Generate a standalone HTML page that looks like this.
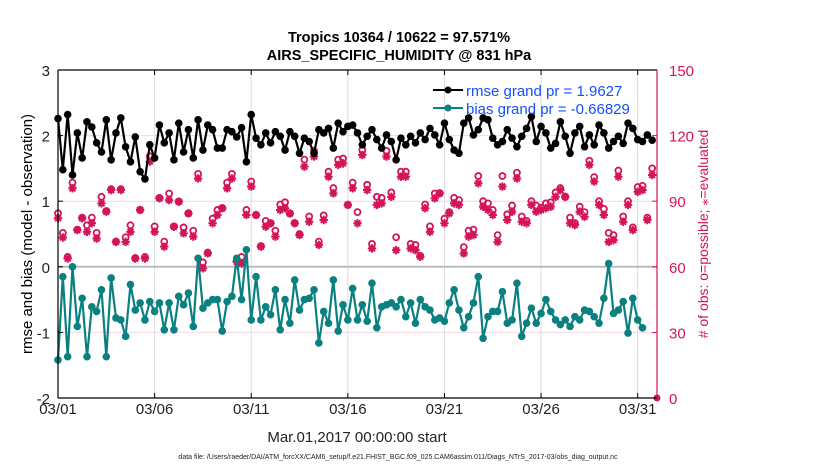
<!DOCTYPE html>
<html><head><meta charset="utf-8"><style>
body{margin:0;background:#fff;width:830px;height:470px;overflow:hidden}
svg{font-family:"Liberation Sans",Arial,sans-serif}
</style></head><body>
<svg id="chart" width="830" height="470" xmlns="http://www.w3.org/2000/svg">
<g id="grid"></g>
<g id="series"></g>
<g id="axes"></g>
<text x="399" y="42" text-anchor="middle" font-size="14.5" font-weight="bold">Tropics 10364 / 10622 = 97.571%</text>
<text x="399" y="60" text-anchor="middle" font-size="14.5" font-weight="bold">AIRS_SPECIFIC_HUMIDITY @ 831 hPa</text>
<text transform="translate(32,234) rotate(-90)" text-anchor="middle" font-size="15">rmse and bias (model - observation)</text>
<text transform="translate(708,234) rotate(-90)" text-anchor="middle" font-size="14" fill="#d4145a"># of obs: o=possible; ⁎=evaluated</text>
<text x="357" y="442" text-anchor="middle" font-size="15" fill="#222">Mar.01,2017 00:00:00 start</text>
<text x="398" y="459" text-anchor="middle" font-size="7" fill="#222">data file: /Users/raeder/DAI/ATM_forcXX/CAM6_setup/f.e21.FHIST_BGC.f09_025.CAM6assim.011/Diags_NTrS_2017-03/obs_diag_output.nc</text>
<g>
<line x1="433" y1="90" x2="463" y2="90" stroke="#000" stroke-width="2"/>
<circle cx="448" cy="90" r="3.5" fill="#000"/>
<text x="466" y="96" font-size="15" fill="#1450ff">rmse grand pr = 1.9627</text>
<line x1="433" y1="108" x2="463" y2="108" stroke="#0a8080" stroke-width="2"/>
<circle cx="448" cy="108" r="3.5" fill="#0a8080"/>
<text x="466" y="114" font-size="15" fill="#1450ff">bias grand pr = -0.66829</text>
</g>
</svg>
<script>
const rmse=[2.26,1.48,2.32,1.40,2.04,1.66,2.21,2.13,1.89,1.75,2.24,1.63,2.04,2.27,1.83,1.60,1.98,1.45,1.34,1.86,1.66,2.16,1.89,2.04,1.63,2.19,1.75,2.09,1.66,2.24,1.78,2.16,2.09,1.81,1.81,2.09,2.06,1.98,2.12,1.60,
2.32,1.96,1.86,2.04,1.89,2.06,1.99,1.78,2.06,1.99,1.73,1.96,1.91,1.73,2.09,2.04,2.11,1.81,2.19,2.06,2.14,2.16,2.04,1.86,1.99,2.09,1.94,1.81,2.01,1.91,1.63,1.96,1.86,1.99,1.89,2.04,1.94,2.11,2.01,1.86,
2.19,1.94,1.78,1.73,2.19,2.27,2.01,2.09,2.27,2.24,1.96,1.86,1.91,2.09,1.96,1.83,1.99,2.11,2.29,1.91,2.14,2.04,1.81,1.88,2.21,1.99,1.73,2.04,2.14,1.83,2.01,1.86,2.16,2.04,1.81,1.91,1.99,1.88,2.19,2.11,1.94,1.91,2.01,1.93];
const bias=[-1.42,-0.15,-1.37,0.0,-0.91,-0.48,-1.37,-0.61,-0.68,-0.35,-1.37,-0.17,-0.78,-0.81,-1.06,-0.27,-0.66,-0.55,-0.81,-0.53,-0.68,-0.55,-0.96,-0.55,-0.96,-0.45,-0.58,-0.40,-0.91,0.13,-0.63,-0.55,-0.50,-0.50,-0.98,-0.53,-0.45,0.13,-0.50,0.26,
-0.81,-0.15,-0.81,-0.61,-0.73,-0.35,-0.96,-0.50,-0.86,-0.20,-0.66,-0.50,-0.48,-0.35,-1.16,-0.68,-0.86,-0.20,-0.98,-0.58,-0.81,-0.33,-0.81,-0.58,-0.83,-0.25,-0.93,-0.61,-0.58,-0.55,-0.61,-0.50,-0.76,-0.55,-0.86,-0.50,-0.61,-0.66,-0.81,-0.78,
-0.83,-0.55,-0.35,-0.66,-0.93,-0.76,-0.55,-0.15,-1.09,-0.76,-0.68,-0.68,-0.38,-0.86,-0.81,-0.25,-1.06,-0.86,-0.63,-0.86,-0.71,-0.50,-0.68,-0.81,-0.88,-0.81,-0.91,-0.76,-0.81,-0.66,-0.68,-0.76,-0.86,-0.48,0.05,-0.71,-0.66,-0.53,-1.01,-0.48,-0.81,-0.93];
const evaluated=[82.2,73.4,63.8,95.9,76.8,82.2,76.0,79.9,72.9,89.0,85.2,95.1,71.4,95.1,71.4,76.0,63.8,86.0,63.8,108.1,76.0,91.3,69.2,90.5,78.3,89.8,75.3,84.4,73.8,100.4,59.3,66.1,79.9,83.7,86.8,95.9,100.4,62.3,61.5,83.7,
96.7,83.7,69.2,78.3,79.9,73.8,86.0,86.8,84.4,79.9,74.5,105.8,80.6,110.4,70.0,81.4,101.2,93.6,106.6,107.3,88.3,95.9,79.9,111.1,95.1,68.4,88.3,89.0,110.4,92.0,67.6,101.2,101.2,68.4,67.6,64.6,86.8,76.0,91.3,93.6,
79.9,84.4,89.0,88.3,66.1,73.8,74.5,98.2,87.5,86.0,83.7,71.4,96.7,81.4,85.2,100.4,80.6,79.9,88.3,85.2,86.0,86.8,87.5,92.0,95.1,92.0,79.9,79.1,85.2,82.9,106.6,99.0,88.3,83.7,71.4,72.2,101.2,80.6,88.3,76.8,94.3,95.1,81.4,102.0];
const possible=[84.5,75.5,64.5,98.5,77.0,82.5,79.0,82.5,75.5,92.0,85.5,95.5,71.5,95.5,73.5,79.0,64.0,86.0,64.5,110.5,78.5,91.5,71.5,93.5,78.5,89.8,78.0,84.5,76.5,102.5,62.0,66.5,82.0,86.0,86.8,98.5,102.5,63.0,64.5,86.0,
99.0,83.7,69.5,81.0,79.9,76.5,88.5,89.5,84.4,80.0,75.0,109.0,83.0,113.0,71.5,83.5,103.5,96.0,109.0,109.5,88.3,98.5,85.0,113.5,97.5,70.5,92.0,91.5,113.0,94.0,73.5,103.5,103.5,70.5,70.0,65.0,88.5,78.5,93.5,93.6,
82.0,85.0,91.5,90.5,69.0,76.5,77.0,101.5,90.0,89.0,86.0,74.5,101.5,84.0,88.0,103.0,83.0,81.0,90.0,88.0,87.0,89.0,89.5,94.0,96.0,92.0,82.5,80.0,87.5,85.0,108.5,101.0,90.0,86.5,75.5,74.5,104.0,83.0,90.0,78.0,96.5,97.0,82.5,105.0];
const xTickLabels=["03/01","03/06","03/11","03/16","03/21","03/26","03/31"];
const xTickDays=[0,5,10,15,20,25,30];
const leftTicks=[3,2,1,0,-1,-2];
const rightTicks=[150,120,90,60,30,0];
const stepDays=0.25;

const X0=58,X1=657,Y0=70,Y1=398,DAYS=31;
const xs=d=>X0+(d/DAYS)*(X1-X0);
const yL=v=>Y1-(v+2)/5*(Y1-Y0);
const yR=c=>Y1-c/150*(Y1-Y0);
const NS="http://www.w3.org/2000/svg";
function mk(tag,parent,attrs){const e=document.createElementNS(NS,tag);for(const k in attrs)e.setAttribute(k,attrs[k]);parent.appendChild(e);return e;}
const grid=document.getElementById('grid'),ser=document.getElementById('series'),ax=document.getElementById('axes');
const CR="#d4145a";

xTickDays.forEach((d,i)=>{
  const g=mk('line',grid,{x1:xs(d),x2:xs(d),y1:Y0,y2:Y1,stroke:"#dcdcdc","stroke-width":1});
  
  
  const t=mk('line',ax,{x1:xs(d),x2:xs(d),y1:Y1,y2:Y1-5,stroke:"#000"});
  
  
  const t2=mk('line',ax,{x1:xs(d),x2:xs(d),y1:Y0,y2:Y0+5,stroke:"#000"});
  
  
  const l=mk('text',ax,{x:xs(d),y:Y1+16,"text-anchor":"middle","font-size":15,fill:"#222"});
  l.textContent=xTickLabels[i];
  
  
});
rightTicks.forEach(c=>{
  if(c>0&&c<150){const g=mk('line',grid,{x1:X0,x2:X1,y1:yR(c),y2:yR(c),stroke:"#f2d8e2","stroke-width":1});
  
  }
  const t=mk('line',ax,{x1:X1,x2:X1-5,y1:yR(c),y2:yR(c),stroke:CR});
  
  
  const l=mk('text',ax,{x:X1+12,y:yR(c)+6,"font-size":15,fill:CR});
  l.textContent=c;
  
  
});
leftTicks.forEach(v=>{
  const t=mk('line',ax,{x1:X0,x2:X0+5,y1:yL(v),y2:yL(v),stroke:"#000"});
  
  
  const l=mk('text',ax,{x:X0-8,y:yL(v)+6,"text-anchor":"end","font-size":15,fill:"#222"});
  l.textContent=v;
  
  
});
const zl=mk('line',grid,{x1:X0,x2:X1,y1:yL(0),y2:yL(0),stroke:"#bbb","stroke-width":2});



possible.forEach((c,i)=>{
  const o=mk('circle',ser,{cx:xs(i*stepDays),cy:yR(c),r:3,fill:"none",stroke:CR,"stroke-width":1.8});
  
  
});
evaluated.forEach((c,i)=>{
  const x=xs(i*stepDays),y=yR(c),r=4.2;
  let d=`M${x-r},${y}H${x+r}M${x},${y-r}V${y+r}`;
  d+=`M${x-r*0.7},${y-r*0.7}L${x+r*0.7},${y+r*0.7}M${x-r*0.7},${y+r*0.7}L${x+r*0.7},${y-r*0.7}`;
  const p=mk('path',ser,{d:d,stroke:CR,"stroke-width":2,fill:"none"});
  
  
  const cc=mk('circle',ser,{cx:x,cy:y,r:2.2,fill:CR});
  
  
});
function line(vals,col,name){
  const pts=vals.map((v,i)=>xs(i*stepDays).toFixed(1)+","+yL(v).toFixed(1)).join(" ");
  const p=mk('polyline',ser,{points:pts,fill:"none",stroke:col,"stroke-width":2.2,"stroke-linejoin":"round"});
  
  
  vals.forEach((v,i)=>{
    const c=mk('circle',ser,{cx:xs(i*stepDays),cy:yL(v),r:3.8,fill:col});
    
    
  });
}
line(rmse,"#000","rmse");
line(bias,"#0a8080","bias");
const zm=mk('circle',ser,{cx:X1,cy:Y1,r:3.5,fill:CR});



const fr=[[X0,Y0,X0,Y1,"#000"],[X0,Y1,X1,Y1,"#000"],[X0,Y0,X1,Y0,"#000"],[X1,Y0,X1,Y1,CR]];
fr.forEach(f=>{
  const l=mk('line',ax,{x1:f[0],y1:f[1],x2:f[2],y2:f[3],stroke:f[4],"stroke-width":1.2});
  
  
});
</script>
</body></html>
